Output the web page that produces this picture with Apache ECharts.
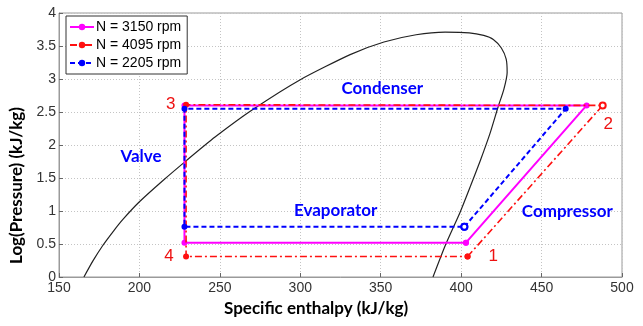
<!DOCTYPE html>
<html>
<head>
<meta charset="utf-8">
<script src="https://cdn.jsdelivr.net/npm/echarts@6/dist/echarts.min.js"></script>
<style>
  html, body { margin: 0; padding: 0; background: #fff; }
  #chart { width: 643px; height: 326px; }
</style>
</head>
<body>
<div id="chart"></div>
<script>
// Refrigeration cycle on a pressure-enthalpy diagram for three compressor speeds

// Saturation dome (specific enthalpy kJ/kg, log pressure)
var domeH = [165.5, 171, 177, 184, 190, 200, 215, 229, 247, 270, 300, 331, 352, 372, 390, 405, 414, 420, 425, 428, 428.6, 426.5, 423, 418, 412, 406, 399.5, 390.5, 382.5];
var domeP = [0, 0.24, 0.47, 0.70, 0.88, 1.14, 1.47, 1.76, 2.12, 2.53, 2.99, 3.37, 3.56, 3.67, 3.71, 3.70, 3.66, 3.60, 3.47, 3.30, 3.10, 2.84, 2.58, 2.18, 1.77, 1.39, 0.99, 0.50, 0];

// Cycle states 1 -> 2 -> 3 -> 4 -> 1
var seriesNames = ['N = 3150 rpm', 'N = 4095 rpm', 'N = 2205 rpm'];
var cycle3150H = [403, 478, 228, 228, 403];
var cycle3150P = [0.52, 2.60, 2.60, 0.52, 0.52];
var cycle4095H = [404, 488, 229, 229, 404];
var cycle4095P = [0.31, 2.60, 2.61, 0.31, 0.31];
var cycle2205H = [402, 465, 228, 228, 402];
var cycle2205P = [0.76, 2.55, 2.55, 0.76, 0.76];

// Process labels and state numbers
var stageNames = ['Condenser', 'Valve', 'Evaporator', 'Compressor'];
var stageH = [351, 201, 322, 466];
var stageP = [2.86, 1.82, 1.0, 0.99];
var stateNames = ['1', '2', '3', '4'];
var stateH = [420, 491.5, 219.4, 218.4];
var stateP = [0.32, 2.32, 2.61, 0.31];

// Axis ticks
var xTicks = [150, 200, 250, 300, 350, 400, 450, 500];
var yTicks = [0, 0.5, 1, 1.5, 2, 2.5, 3, 3.5, 4];

function zip(a, b) { return a.map(function (v, i) { return [v, b[i]]; }); }
function labelled(names, h, p) { return names.map(function (n, i) { return { name: n, value: [h[i], p[i]] }; }); }
function cycleData(h, p, hollowIdx) {
  return h.map(function (v, i) {
    var item = { value: [v, p[i]] };
    if (hollowIdx.indexOf(i) >= 0) {
      item.symbol = 'emptyCircle';
      item.symbolSize = 6;
      item.itemStyle = { borderWidth: 1.2 };
    }
    return item;
  });
}

var chart = echarts.init(document.getElementById('chart'), null, { renderer: 'canvas' });

var axisLabelStyle = { color: '#333', fontFamily: 'Liberation Sans', fontSize: 14 };
var gridLine = { show: true, lineStyle: { color: '#c4c4c4', type: [1, 2], width: 1 } };

chart.setOption({
  animation: false,
  backgroundColor: '#fff',
  grid: { left: 59, top: 13, right: 21, bottom: 49, show: true, borderColor: '#9a9a9a', borderWidth: 1, backgroundColor: 'transparent' },
  xAxis: {
    type: 'value', min: xTicks[0], max: xTicks[xTicks.length - 1], interval: 50,
    axisLine: { show: true, lineStyle: { color: '#9a9a9a' } },
    axisTick: { show: true, inside: true, length: 4, lineStyle: { color: '#666' } },
    axisLabel: Object.assign({ margin: 4 }, axisLabelStyle),
    splitLine: gridLine
  },
  yAxis: {
    type: 'value', min: yTicks[0], max: yTicks[yTicks.length - 1], interval: 0.5,
    axisLine: { show: true, lineStyle: { color: '#9a9a9a' } },
    axisTick: { show: true, inside: true, length: 4, lineStyle: { color: '#666' } },
    axisLabel: Object.assign({ margin: 3 }, axisLabelStyle),
    splitLine: gridLine
  },
  legend: {
    data: seriesNames,
    orient: 'vertical',
    left: 66, top: 16,
    backgroundColor: '#fff',
    borderColor: '#333', borderWidth: 1, borderRadius: 0,
    padding: [3, 6, 3, 3],
    itemWidth: 24, itemHeight: 8, itemGap: 2,
    textStyle: { color: '#000', fontFamily: 'Liberation Sans', fontSize: 14, lineHeight: 16, padding: [0, 0, 0, -3] }
  },
  graphic: [
    { type: 'text', left: 224, top: 300, style: { text: 'Specific enthalpy (kJ/kg)', font: 'bold 17px Lato', fill: '#000' } },
    { type: 'text', x: 8, y: 264, rotation: Math.PI / 2, style: { text: 'Log(Pressure) (kJ/kg)', font: 'bold 17px Lato', fill: '#000' } }
  ],
  series: [
    {
      name: 'dome', type: 'line', data: zip(domeH, domeP), smooth: 0.2,
      showSymbol: false, silent: true, z: 1,
      lineStyle: { color: '#222', width: 1.2 }
    },
    {
      name: seriesNames[0], type: 'line', data: cycleData(cycle3150H, cycle3150P, []),
      symbol: 'circle', symbolSize: 6, z: 3,
      itemStyle: { color: '#ff00ff' },
      lineStyle: { color: '#ff00ff', width: 2, type: 'solid' }
    },
    {
      name: seriesNames[1], type: 'line', data: cycleData(cycle4095H, cycle4095P, [1]),
      symbol: 'circle', symbolSize: 6, z: 4,
      itemStyle: { color: '#ff1010' },
      lineStyle: { color: '#ff1010', width: 1.6, type: [7, 3, 2, 3] }
    },
    {
      name: seriesNames[2], type: 'line', data: cycleData(cycle2205H, cycle2205P, [0, 4]),
      symbol: 'circle', symbolSize: 6, z: 5,
      itemStyle: { color: '#0000ff' },
      lineStyle: { color: '#0000ff', width: 2, type: [5, 3] }
    },
    {
      name: 'stages', type: 'scatter', data: labelled(stageNames, stageH, stageP),
      symbolSize: 0, silent: true, z: 6,
      itemStyle: { opacity: 1 },
      label: { show: true, position: 'inside', formatter: '{b}', color: '#0000ff', fontFamily: 'Lato', fontWeight: 'bold', fontSize: 17 }
    },
    {
      name: 'states', type: 'scatter', data: labelled(stateNames, stateH, stateP),
      symbolSize: 0, silent: true, z: 6,
      itemStyle: { opacity: 1 },
      label: { show: true, position: 'inside', formatter: '{b}', color: '#ee1111', fontFamily: 'Liberation Sans', fontSize: 17 }
    }
  ]
});
</script>
</body>
</html>
